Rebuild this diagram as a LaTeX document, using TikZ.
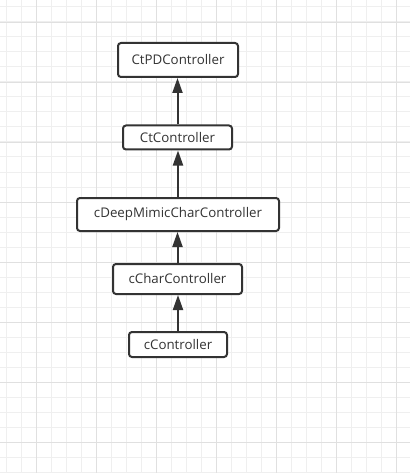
\documentclass[tikz,border=0pt]{standalone}
\usepackage{fontspec}
\setmainfont{Open Sans}
\usetikzlibrary{arrows.meta}
\definecolor{minorgrid}{HTML}{EFEFEF}
\definecolor{majorgrid}{HTML}{E0E0E0}
\definecolor{ink}{HTML}{333333}
\tikzset{
  cls/.style={draw=ink, line width=2pt, rounded corners=3pt, fill=white, text=ink, font=\fontsize{13.3}{15}\selectfont, inner sep=0pt, align=center},
  inh/.style={draw=ink, line width=2pt, -{Triangle[length=15pt,width=10pt]}}
}
\begin{document}
\begin{tikzpicture}[x=1pt,y=-1pt]
\useasboundingbox (0,0) rectangle (410,473);
\fill[white] (0,0) rectangle (410,473);
\foreach \i in {0,...,27} {
  \draw[minorgrid, line width=1pt] ({6.7+15*\i},0) -- ({6.7+15*\i},473);
}
\foreach \i in {0,...,31} {
  \draw[minorgrid, line width=1pt] (0,{7+15*\i}) -- (410,{7+15*\i});
}
\foreach \i in {0,...,6} {
  \draw[majorgrid, line width=1pt] ({36.7+60*\i},0) -- ({36.7+60*\i},473);
}
\foreach \i in {0,...,7} {
  \draw[majorgrid, line width=1pt] (0,{22.3+60*\i}) -- (410,{22.3+60*\i});
}
\node[cls, minimum width=120pt, minimum height=34pt] (pd) at (178,60) {CtPDController};
\node[cls, minimum width=109pt, minimum height=24pt] (ct) at (177.5,137.5) {CtController};
\node[cls, minimum width=202pt, minimum height=33pt] (deep) at (178,214.5) {cDeepMimicCharController};
\node[cls, minimum width=129pt, minimum height=30pt] (chr) at (177.5,279) {cCharController};
\node[cls, minimum width=98pt, minimum height=25pt] (ctrl) at (178,344.5) {cController};
\draw[inh] (ctrl.north) -- (ctrl.north |- chr.south);
\draw[inh] (chr.north) -- (chr.north |- deep.south);
\draw[inh] (deep.north) -- (deep.north |- ct.south);
\draw[inh] (ct.north) -- (ct.north |- pd.south);
\end{tikzpicture}
\end{document}
